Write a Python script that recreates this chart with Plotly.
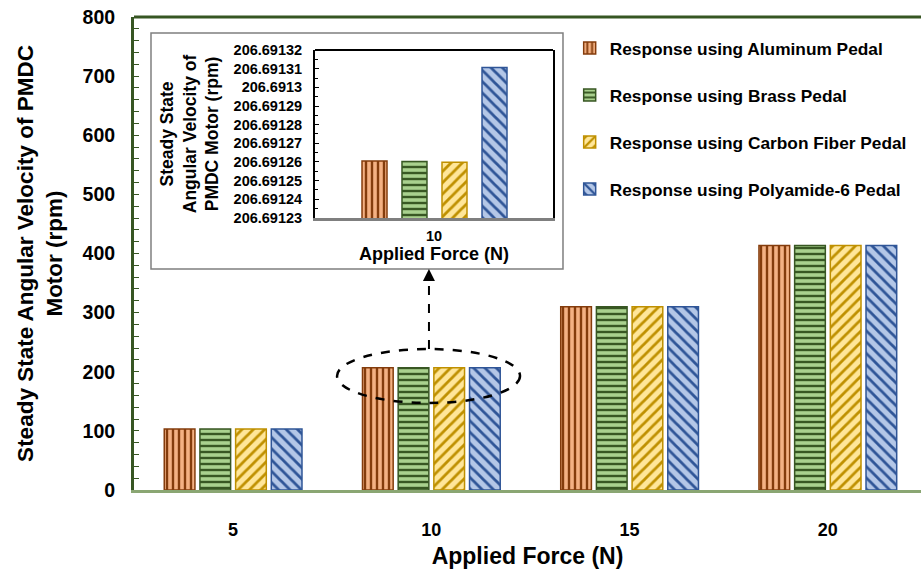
import plotly.graph_objects as go

# Applied force categories (N)
forces = ["5", "10", "15", "20"]

# Steady-state angular velocity of the PMDC motor (rpm) for each pedal material
aluminum = [103.34563, 206.6912606, 310.03689, 413.38252]
brass = [103.34563, 206.6912603, 310.03689, 413.38252]
carbon_fiber = [103.34563, 206.6912599, 310.03689, 413.38252]
polyamide6 = [103.34566, 206.6913107, 310.03697, 413.38262]

series_names = [
    "Response using Aluminum Pedal",
    "Response using Brass Pedal",
    "Response using Carbon Fiber Pedal",
    "Response using Polyamide-6 Pedal",
]

# Inset (zoom on the 10 N group) tick labels
inset_tickvals = [206.69123, 206.69124, 206.69125, 206.69126, 206.69127,
                  206.69128, 206.69129, 206.69130, 206.69131, 206.69132]
inset_ticktext = ["206.69123", "206.69124", "206.69125", "206.69126", "206.69127",
                  "206.69128", "206.69129", "206.6913", "206.69131", "206.69132"]

styles = [
    dict(bg="#f4b183", fg="#843c0c", shape="|", size=6, solidity=0.4),
    dict(bg="#a9d18e", fg="#385723", shape="-", size=6, solidity=0.4),
    dict(bg="#ffe699", fg="#bf9000", shape="/", size=8, solidity=0.35),
    dict(bg="#b4c7e7", fg="#2f5597", shape="\\", size=8, solidity=0.35),
]

all_series = [aluminum, brass, carbon_fiber, polyamide6]
inset_idx = forces.index("10")
inset_offsets = [-0.3025, -0.1345, 0.0336, 0.2017]

fig = go.Figure()

for k, (name, vals, st) in enumerate(zip(series_names, all_series, styles)):
    pattern = dict(shape=st["shape"], fgcolor=st["fg"], bgcolor=st["bg"],
                   size=st["size"], solidity=st["solidity"], fillmode="replace")
    fig.add_trace(go.Bar(
        x=forces, y=vals, name=name, legendgroup=name,
        marker=dict(color=st["bg"], line=dict(color=st["fg"], width=1.5), pattern=pattern),
        xaxis="x", yaxis="y",
    ))
    fig.add_trace(go.Bar(
        x=[forces[inset_idx]], y=[vals[inset_idx]], name=name, showlegend=False,
        width=0.105, offset=inset_offsets[k],
        marker=dict(color=st["bg"], line=dict(color=st["fg"], width=1.5), pattern=pattern),
        xaxis="x2", yaxis="y2",
    ))

dark_green = "#375623"

fig.update_layout(
    width=921, height=569,
    margin=dict(l=134, r=0, t=17, b=79),
    paper_bgcolor="white", plot_bgcolor="white",
    font=dict(family="Liberation Sans", size=16, color="black", weight="bold"),
    barmode="group", bargap=0.28, bargroupgap=0.14,
    showlegend=True,
    legend=dict(
        x=0.5536, y=0.972, xanchor="left", yanchor="top",
        font=dict(size=17.3, weight="bold"), tracegroupgap=21.5,
        bgcolor="rgba(0,0,0,0)", itemclick=False,
    ),
    xaxis=dict(
        type="category", range=[-0.5, 3.47], automargin=False,
        showline=True, linecolor="#8aa673", linewidth=3,
        ticks="", showgrid=False, ticklabelstandoff=21,
        tickfont=dict(size=18, weight="bold"),
        title=dict(text="Applied Force (N)", font=dict(size=23, weight="bold"), standoff=15),
    ),
    yaxis=dict(
        range=[0, 800], dtick=100, showgrid=False, zeroline=False, automargin=False,
        showline=True, linecolor=dark_green, linewidth=3,
        ticks="inside", ticklen=5, tickcolor=dark_green, tickwidth=1,
        minor=dict(ticks="inside", dtick=20, ticklen=5, tickcolor=dark_green, tickwidth=1),
        ticklabelstandoff=12,
        tickfont=dict(size=19.5, weight="bold"),
        title=dict(text="Steady State Angular Velocity of PMDC<br>Motor (rpm)",
                   font=dict(size=22.5, weight="bold"), standoff=14),
    ),
    xaxis2=dict(
        type="category", range=[-0.5, 0.5], domain=[0.2300, 0.5324], anchor="y2",
        automargin=False,
        showline=True, linecolor="#7f7f7f", linewidth=3,
        ticks="", showgrid=False, ticklabelstandoff=3,
        tickfont=dict(size=14.5, weight="bold"),
        title=dict(text="Applied Force (N)", font=dict(size=18, weight="bold"), standoff=3),
    ),
    yaxis2=dict(
        range=[206.69123, 206.69132], domain=[0.5751, 0.9302], anchor="x2",
        automargin=False,
        tickvals=inset_tickvals, ticktext=inset_ticktext,
        showgrid=False, zeroline=False,
        showline=True, linecolor="black", linewidth=2, mirror=True,
        ticks="inside", ticklen=4, tickcolor="black",
        minor=dict(ticks="inside", nticks=5, ticklen=3, tickcolor="black"),
        ticklabelstandoff=8,
        tickfont=dict(size=14.5, weight="bold"),
        title=dict(text="Steady State<br>Angular Velocity of<br>PMDC Motor (rpm)",
                   font=dict(size=17.5, weight="bold"), standoff=10),
    ),
)

shapes = [
    # white panel behind the inset
    dict(type="rect", xref="paper", yref="paper", x0=0.0216, x1=0.5451, y0=0.4672, y1=0.9662,
         line=dict(color="#7f7f7f", width=1.5), fillcolor="white", layer="below"),
    # inset top frame
    dict(type="line", xref="x2 domain", yref="y2 domain", x0=0, x1=1, y0=1, y1=1,
         line=dict(color="black", width=2)),
    # main plot top frame
    dict(type="line", xref="paper", yref="paper", x0=0, x1=1, y0=1, y1=1,
         line=dict(color=dark_green, width=3)),
    # dashed ellipse around the 10 N group
    dict(type="circle", xref="paper", yref="paper", x0=0.258, x1=0.4905, y0=0.184, y1=0.298,
         line=dict(color="black", width=2.5, dash="dash")),
    # dashed leader from the ellipse to the inset
    dict(type="line", xref="paper", yref="paper", x0=0.3748, x1=0.3748, y0=0.2981, y1=0.452,
         line=dict(color="black", width=2, dash="dash")),
]
fig.update_layout(shapes=shapes)

fig.add_annotation(
    xref="paper", yref="paper", x=0.3748, y=0.4672, ax=0, ay=10,
    text="", showarrow=True, arrowhead=2, arrowsize=1.2, arrowwidth=2, arrowcolor="black",
)

fig.write_html("out.html")
